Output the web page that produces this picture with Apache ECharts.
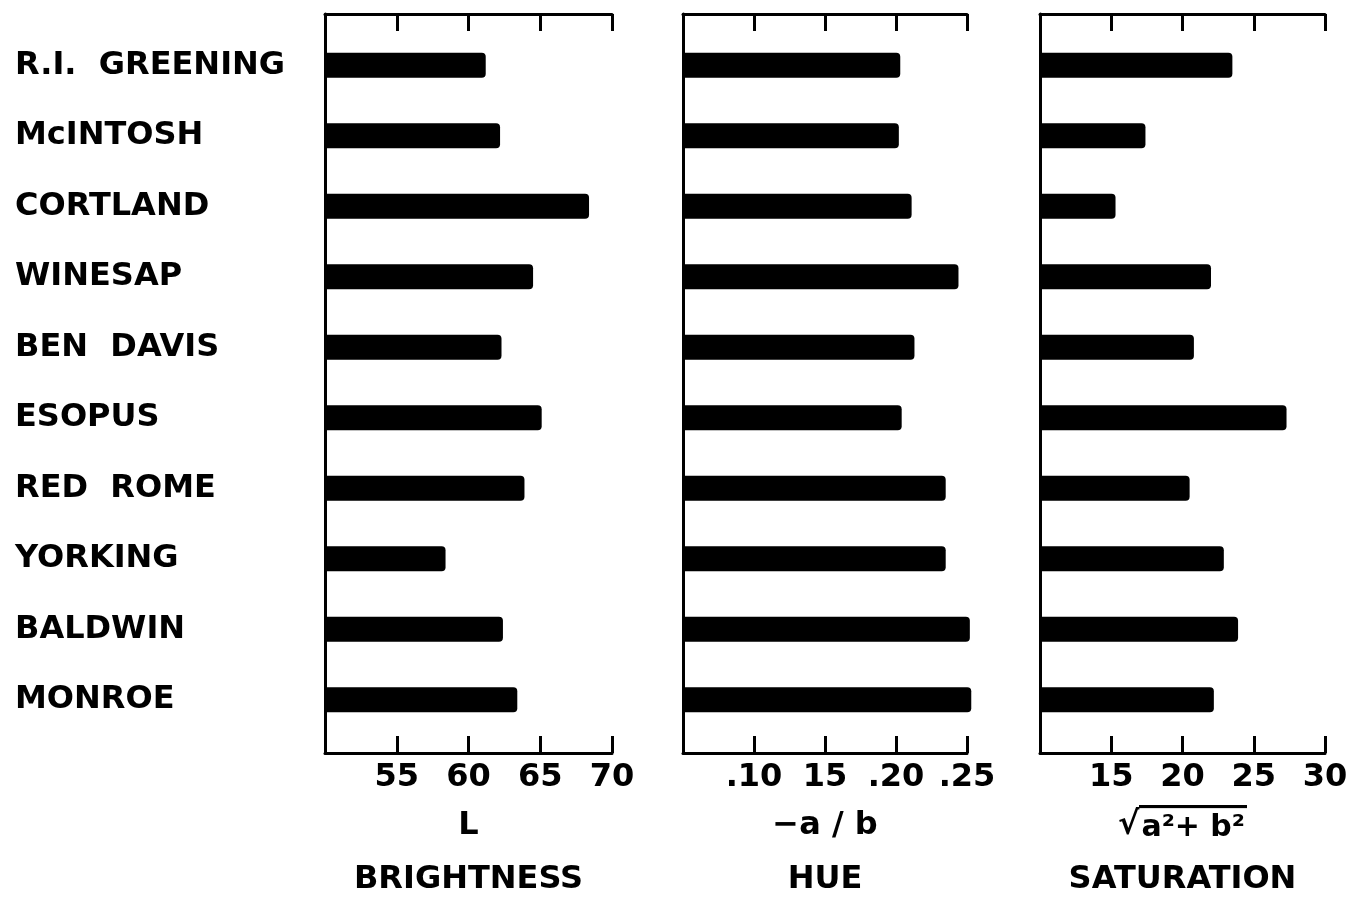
<!DOCTYPE html>
<html>
<head>
<meta charset="utf-8">
<script src="https://cdn.jsdelivr.net/npm/echarts@6/dist/echarts.min.js"></script>
<style>
html,body{margin:0;padding:0;background:#fff;}
#chart{width:1353px;height:900px;}
</style>
</head>
<body>
<div id="chart"></div>
<script>
const categories = ['R.I.  GREENING', 'McINTOSH', 'CORTLAND', 'WINESAP', 'BEN  DAVIS', 'ESOPUS', 'RED  ROME', 'YORKING', 'BALDWIN', 'MONROE'];
const brightness = [61.2, 62.2, 68.4, 64.5, 62.3, 65.1, 63.9, 58.4, 62.4, 63.4];
const hue = [0.203, 0.202, 0.211, 0.244, 0.213, 0.204, 0.235, 0.235, 0.252, 0.253];
const saturation = [23.5, 17.4, 15.3, 22.0, 20.8, 27.3, 20.5, 22.9, 23.9, 22.2];
const brightnessTicks = ['', '55', '60', '65', '70'];
const hueTicks = ['', '.10', '15', '.20', '.25'];
const saturationTicks = ['', '15', '20', '25', '30'];
const brightnessName = '{t|L}\n{t|BRIGHTNESS}';
const hueName = '{t|\u2212a / b}\n{t|HUE}';
const saturationName = '{r|\u221A}{o|a\u00B2+ b\u00B2}\n{t|SATURATION}';

const FONT = 'DejaVu Sans';
const W = 1353;

// overline image for the radical's vinculum
const ov = document.createElement('canvas');
ov.width = 4; ov.height = 40;
const octx = ov.getContext('2d');
octx.fillStyle = '#000';
octx.fillRect(0, 0, 4, 3);

const nameRich = {
  t: {color: '#000', fontFamily: FONT, fontWeight: 'bold', fontSize: 32, lineHeight: 54},
  r: {color: '#000', fontFamily: FONT, fontWeight: 'bold', fontSize: 32, lineHeight: 54},
  o: {color: '#000', fontFamily: FONT, fontWeight: 'bold', fontSize: 30, height: 38, padding: [4, 2, 0, 2],
      backgroundColor: {image: ov}}
};

const panels = [
  {left: 325, right: 741, min: 50, max: 70, interval: 5, ticks: brightnessTicks, name: brightnessName, data: brightness, cats: true},
  {left: 683, right: 386, min: 0.05, max: 0.25, interval: 0.05, ticks: hueTicks, name: hueName, data: hue, cats: false},
  {left: 1040, right: 28, min: 10, max: 30, interval: 5, ticks: saturationTicks, name: saturationName, data: saturation, cats: false}
];

const grid = [], xAxis = [], yAxis = [], series = [];
const line = {color: '#000', width: 3};
panels.forEach((p, i) => {
  // data grid extends a little beyond the frame so bars past the last tick are not clipped
  const span = p.max - p.min;
  const pxPerUnit = (W - p.left - p.right) / span;
  const extra = span * 0.1;
  const dataRight = p.right - extra * pxPerUnit;
  grid.push({left: p.left, right: p.right, top: 14, bottom: 147, outerBoundsMode: 'none', containLabel: false});
  grid.push({left: p.left, right: dataRight, top: 30, bottom: 165, outerBoundsMode: 'none', containLabel: false});
  const base = {
    type: 'value', min: p.min, max: p.max, interval: p.interval,
    axisLine: {show: true, onZero: false, lineStyle: line},
    axisTick: {show: true, inside: true, length: 17, lineStyle: line},
    splitLine: {show: false}
  };
  xAxis.push(Object.assign({}, base, {
    gridIndex: 2 * i, position: 'bottom',
    axisLabel: {show: true, color: '#000', fontFamily: FONT, fontWeight: 'bold', fontSize: 32, margin: 9,
      formatter: (v, idx) => p.ticks[idx] !== undefined ? p.ticks[idx] : ''},
    name: p.name, nameLocation: 'middle', nameGap: 26,
    nameTextStyle: {color: '#000', fontFamily: FONT, fontWeight: 'bold', fontSize: 32, lineHeight: 54,
      verticalAlign: 'top', rich: nameRich}
  }));
  xAxis.push(Object.assign({}, base, {
    gridIndex: 2 * i, position: 'top', axisLabel: {show: false}
  }));
  xAxis.push({gridIndex: 2 * i + 1, type: 'value', min: p.min, max: p.max + extra, show: false});
  yAxis.push({gridIndex: 2 * i, type: 'value', min: 0, max: 1,
    axisLine: {show: true, onZero: false, lineStyle: line},
    axisTick: {show: false}, axisLabel: {show: false}, splitLine: {show: false}});
  yAxis.push({gridIndex: 2 * i + 1, type: 'category', data: categories, inverse: true,
    axisLine: {show: false}, axisTick: {show: false}, splitLine: {show: false},
    axisLabel: {show: p.cats, color: '#000', fontFamily: FONT, fontWeight: 'bold', fontSize: 32,
      align: 'left', margin: 310}});
  series.push({
    type: 'bar', xAxisIndex: 3 * i + 2, yAxisIndex: 2 * i + 1, data: p.data,
    barWidth: 25, silent: true, animation: false,
    itemStyle: {color: '#000', borderRadius: [0, 4, 4, 0]}
  });
});

const chart = echarts.init(document.getElementById('chart'), null, {renderer: 'canvas'});
chart.setOption({backgroundColor: '#fff', animation: false, grid, xAxis, yAxis, series});
</script>
</body>
</html>
